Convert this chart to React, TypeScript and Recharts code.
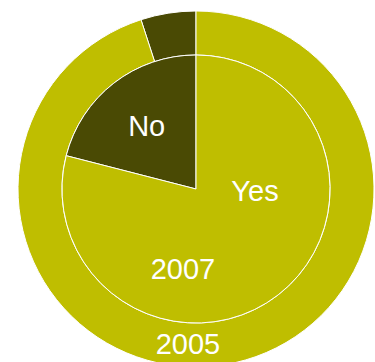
import React from 'react';
import { PieChart, Pie, Cell } from 'recharts';

const categories = ['No', 'Yes'];
const values2005 = [5, 95];
const values2007 = [21, 79];
const yearLabels = ['2005', '2007'];
const colors = ['#4a4a04', '#bfbe00'];

const data2005 = categories.map((c, i) => ({ name: c, value: values2005[i] }));
const data2007 = categories.map((c, i) => ({ name: c, value: values2007[i] }));

const FONT = '"Liberation Sans", Arial, Helvetica, sans-serif';

const txt = (x: number, y: number, s: string, key: string) => (
  <text key={key} x={x} y={y} fill="#ffffff" fontSize={29} fontFamily={FONT} textAnchor="middle">
    {s}
  </text>
);

const innerLabel = (props: any) => {
  const { cx, cy, index, midAngle, outerRadius } = props;
  if (index === 0) {
    const r = outerRadius * 0.6;
    const a = (midAngle * Math.PI) / 180;
    return txt(cx + r * Math.cos(a), cy - r * Math.sin(a) + 11, categories[0], 'no');
  }
  return (
    <g key="yes">
      {txt(cx + 59, cy + 12, categories[1], 'y')}
      {txt(cx - 13, cy + 90, yearLabels[1], 'y7')}
    </g>
  );
};

const outerLabel = (props: any) => {
  const { cx, cy, index, innerRadius, outerRadius } = props;
  if (index !== 1) return null;
  const r = (innerRadius + outerRadius) / 2;
  return txt(cx - 8, cy + r + 9, yearLabels[0], 'y5');
};

export default function App() {
  return (
    <div style={{ position: 'absolute', left: 0, top: 0 }}>
      <PieChart width={375} height={362} margin={{ top: 0, right: 0, bottom: 0, left: 0 }}>
        <Pie
          data={data2005}
          dataKey="value"
          cx={196}
          cy={189}
          innerRadius={134}
          outerRadius={178}
          startAngle={90}
          endAngle={450}
          stroke="#ffffff"
          strokeWidth={1}
          isAnimationActive={false}
          label={outerLabel}
          labelLine={false}
        >
          {data2005.map((d, i) => (
            <Cell key={d.name} fill={colors[i]} />
          ))}
        </Pie>
        <Pie
          data={data2007}
          dataKey="value"
          cx={196}
          cy={189}
          innerRadius={0}
          outerRadius={134}
          startAngle={90}
          endAngle={450}
          stroke="#ffffff"
          strokeWidth={1}
          isAnimationActive={false}
          label={innerLabel}
          labelLine={false}
        >
          {data2007.map((d, i) => (
            <Cell key={d.name} fill={colors[i]} />
          ))}
        </Pie>
      </PieChart>
    </div>
  );
}
